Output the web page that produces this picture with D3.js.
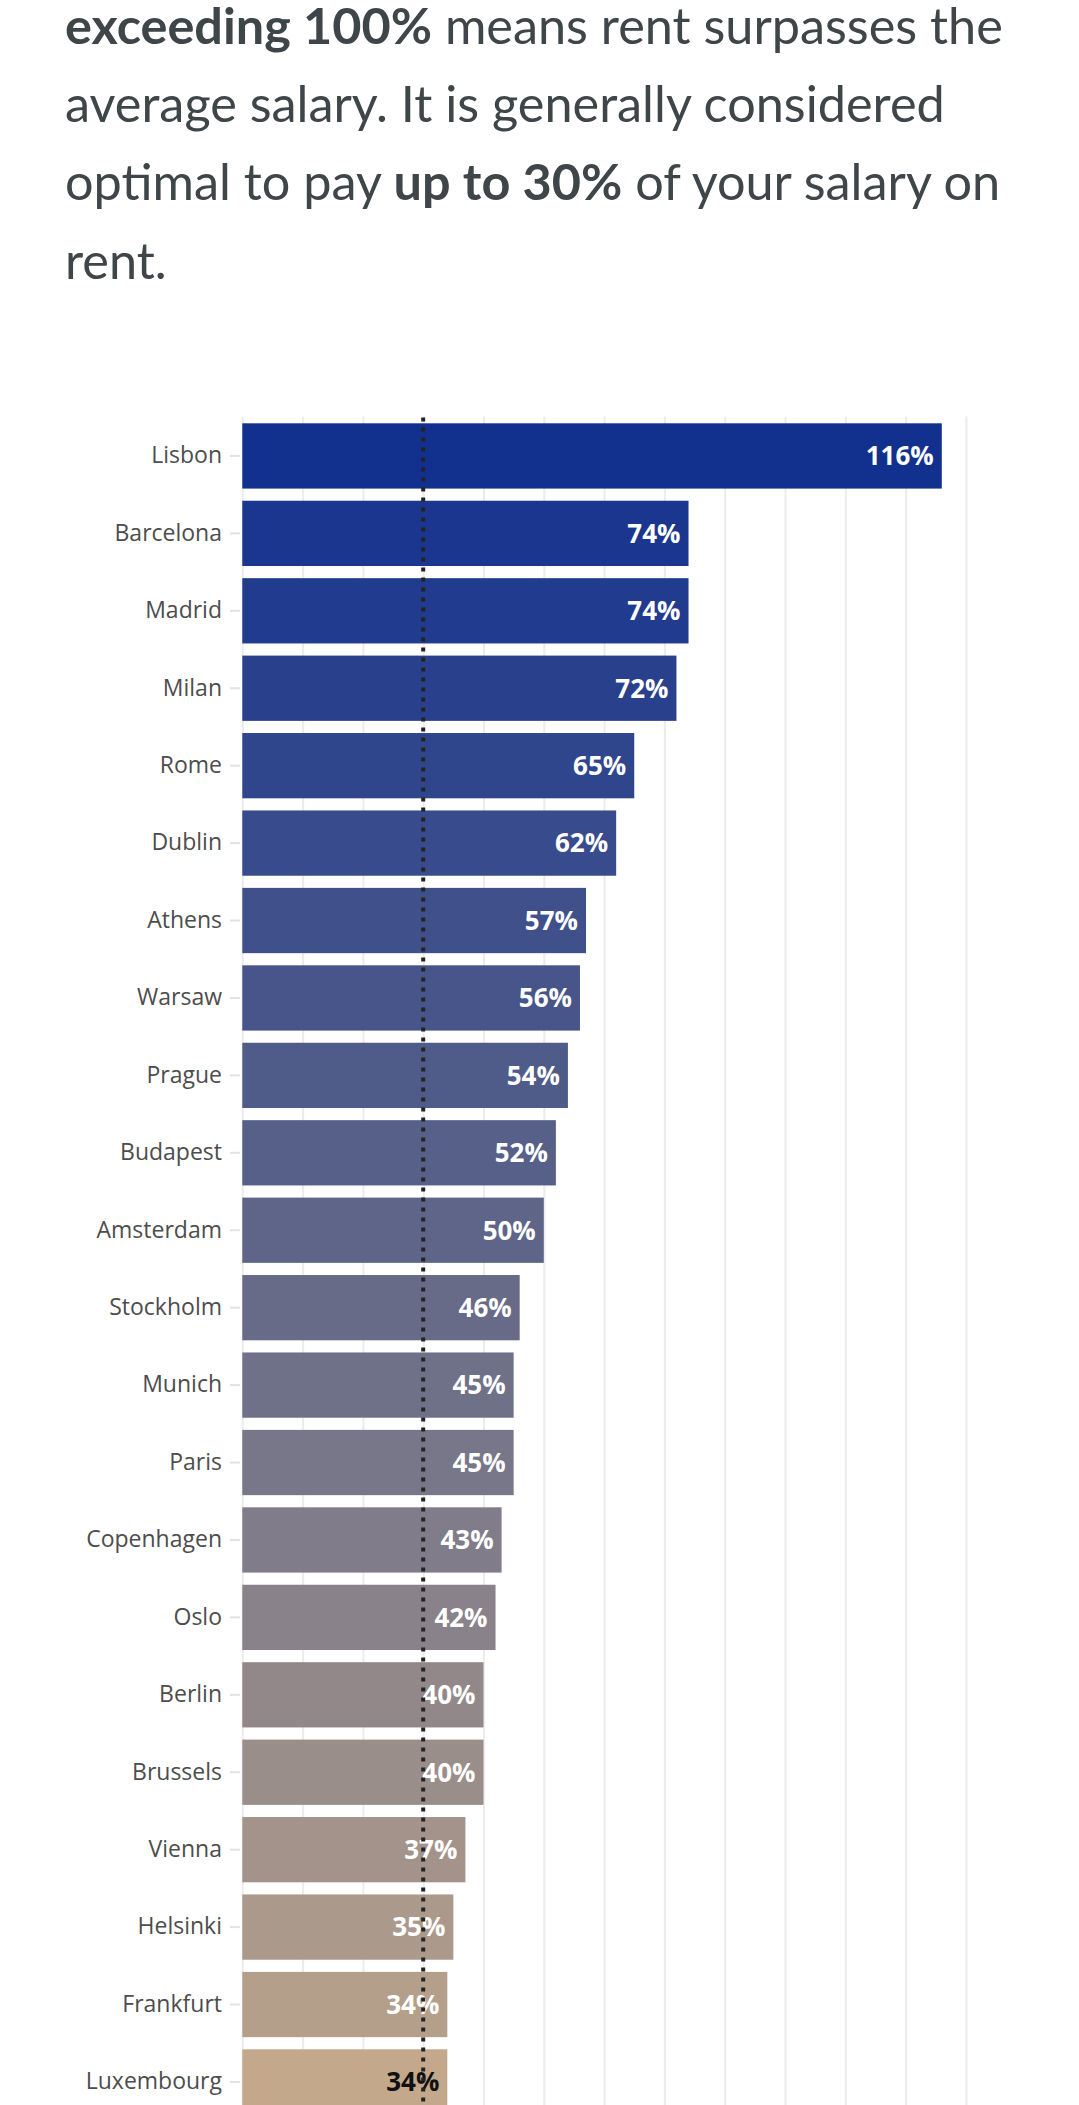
<!DOCTYPE html>
<html>
<head>
<meta charset="utf-8">
<script src="https://cdn.jsdelivr.net/npm/d3@7"></script>
<style>
  html, body { margin: 0; padding: 0; background: #fff; overflow: hidden; }
  svg { display: block; }
</style>
</head>
<body>
<div id="chart"></div>
<script>
// intro text, split in lines as in the article (bold parts flagged)
const introLines = [
    [["exceeding 100%", true], [" means rent surpasses the", false]],
    [["average salary. It is generally considered", false]],
    [["optimal to pay ", false], ["up to 30%", true], [" of your salary on", false]],
    [["rent.", false]]
]

const cities = ["Lisbon", "Barcelona", "Madrid", "Milan", "Rome", "Dublin", "Athens", "Warsaw",
    "Prague", "Budapest", "Amsterdam", "Stockholm", "Munich", "Paris", "Copenhagen", "Oslo",
    "Berlin", "Brussels", "Vienna", "Helsinki", "Frankfurt", "Luxembourg"]
const rentShare = [116, 74, 74, 72, 65, 62, 57, 56, 54, 52, 50, 46, 45, 45, 43, 42, 40, 40, 37, 35, 34, 34]
const gridTicks = [0, 10, 20, 30, 40, 50, 60, 70, 80, 90, 100, 110, 120]
const optimalShare = 30

const W = 1079, H = 2105
const svg = d3.select("#chart").append("svg")
    .attr("width", W)
    .attr("height", H)

// ---- intro paragraph
const intro = svg.append("g")
    .attr("font-family", "'Source Sans Pro', Lato, sans-serif")
    .attr("fill", "#3f4649")
let fontSize = 44
const lineEls = introLines.map((segs, i) => {
    const t = intro.append("text")
        .attr("x", 65)
        .attr("y", 44 + i * 78.2)
    segs.forEach(([s, bold]) => {
        t.append("tspan").text(s).attr("font-weight", bold ? 700 : 400)
    })
    return t
})
// fit the fallback font to the original line length
lineEls.forEach(t => t.attr("font-size", fontSize))
const w0 = lineEls[0].node().getComputedTextLength()
fontSize = fontSize * 938 / w0
lineEls.forEach(t => t.attr("font-size", fontSize))

// ---- chart
const plotTop = 416.5
const x = d3.scaleLinear().domain([0, 120]).range([242.3, 965.9])
const y = d3.scaleBand()
    .domain(cities)
    .range([plotTop, 2121.4])
    .paddingInner(0.157)
    .paddingOuter(0.088)

const color = d3.scaleLinear()
    .domain([0, 10, 20, 21])
    .range(["#12318f", "#5e6588", "#b49f8b", "#c4a88c"])
    .interpolate(d3.interpolateRgb)

// vertical grid
const grid = svg.append("g")
    .attr("transform", `translate(0,${plotTop})`)
    .call(d3.axisBottom(x).tickValues(gridTicks).tickSize(H - plotTop).tickFormat(""))
grid.select(".domain").remove()
grid.selectAll(".tick line")
    .attr("stroke", "#ececec")
    .attr("stroke-width", 2)

// city axis
const yAxis = svg.append("g")
    .attr("transform", "translate(240,0)")
    .call(d3.axisLeft(y).tickSize(10).tickPadding(8))
yAxis.select(".domain").remove()
yAxis.selectAll(".tick line")
    .attr("stroke", "#e2e2e2")
    .attr("stroke-width", 2)
yAxis.selectAll(".tick text")
    .attr("font-family", "'Open Sans', sans-serif")
    .attr("font-size", 23)
    .attr("fill", "#4d4d4d")

const rows = cities.map((c, i) => ({ city: c, value: rentShare[i], fill: color(i) }))

svg.append("g")
    .selectAll("rect")
    .data(rows)
    .enter()
    .append("rect")
    .attr("x", x(0))
    .attr("y", d => y(d.city))
    .attr("width", d => x(d.value) - x(0))
    .attr("height", y.bandwidth())
    .attr("fill", d => d.fill)

svg.append("g")
    .selectAll("text")
    .data(rows)
    .enter()
    .append("text")
    .attr("x", d => x(d.value) - 8)
    .attr("y", d => y(d.city) + y.bandwidth() / 2)
    .attr("dy", "0.36em")
    .attr("text-anchor", "end")
    .attr("font-family", "'Open Sans', sans-serif")
    .attr("font-weight", 700)
    .attr("font-size", 26)
    .attr("fill", d => d3.lab(d.fill).l > 68 ? "#111" : "#fff")
    .text(d => d.value + "%")

// 30% reference line, drawn over everything
svg.append("line")
    .attr("x1", x(optimalShare))
    .attr("x2", x(optimalShare))
    .attr("y1", plotTop + 1)
    .attr("y2", H)
    .attr("stroke", "#232323")
    .attr("stroke-width", 4)
    .attr("stroke-dasharray", "4 6")
</script>
</body>
</html>
